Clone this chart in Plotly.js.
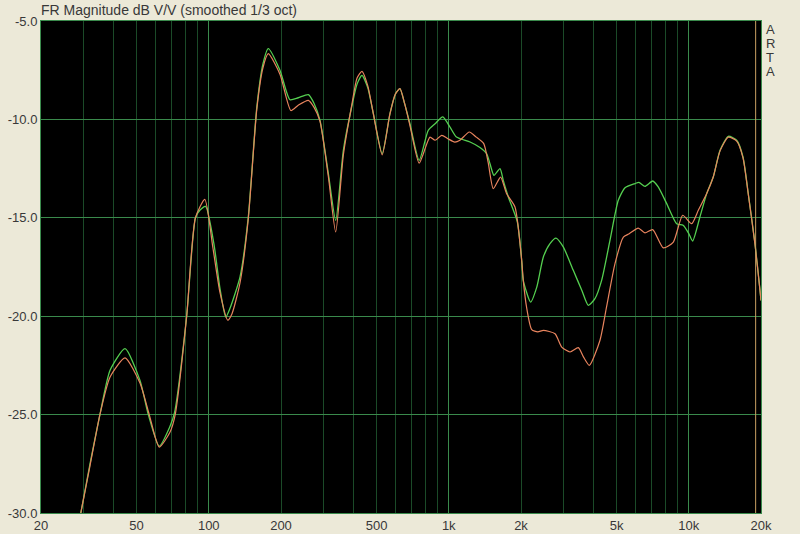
<!DOCTYPE html>
<html>
<head>
<meta charset="utf-8">
<script src="https://cdn.plot.ly/plotly-3.0.1.min.js"></script>
<style>html,body{margin:0;padding:0;background:#ECE9D8;}#chart{width:800px;height:534px;}</style>
</head>
<body>
<div id="chart"></div>
<script>
// ---- data ----
const freqGreen = [29.3,32,35.2,38.8,44.8,51.7,56,62.2,68.9,72,80.9,88,92,97,105,111.4,117.7,122.6,135,146,158.5,168,177,198,218,236,260,275,290.8,315,338,363.8,394,415,435,460,485,528,569,600,626,655,689,753,822,877,944,1012,1077,1227,1349,1438,1485,1543,1635,1687,1771,1930,2013,2044,2193,2327,2478,2641,2799,3000,3303,3583,3815,4066,4335,4698,5086,5426,5970,6200,6571,7078,7460,8093,8905,9471,10000,10380,11130,11880,12650,13500,14620,15840,16830,17700,18880,19810,20000];
const dbGreen = [-30.0,-27.5,-25.0,-22.75,-21.65,-23.26,-25.0,-26.6,-25.6,-24.9,-20.0,-15.0,-14.6,-14.42,-16.3,-18.6,-20.05,-19.6,-18.0,-15.0,-9.4,-7.2,-6.4,-7.5,-9.0,-8.9,-8.74,-9.2,-10.05,-12.75,-15.13,-11.57,-9.37,-8.2,-7.76,-8.4,-9.71,-11.74,-9.71,-8.7,-8.44,-9.2,-10.22,-12.08,-10.55,-10.22,-9.87,-10.39,-10.9,-11.15,-11.43,-11.74,-12.25,-12.84,-12.5,-13.1,-13.94,-15.2,-17.16,-18.18,-19.28,-18.52,-16.99,-16.31,-16.03,-16.48,-17.67,-18.68,-19.45,-19.11,-18.18,-16.14,-14.11,-13.47,-13.26,-13.2,-13.4,-13.13,-13.43,-14.28,-15.3,-15.38,-15.8,-16.18,-14.96,-13.77,-12.93,-11.57,-10.86,-11.06,-11.91,-13.77,-16.31,-18.68,-19.2];

const freqRed = [29.3,32,35.2,38.8,44.8,51.7,56.5,62.2,68.9,72.5,80.9,88,96.3,104,111.4,120,125,135,146,158.5,168,177,198,220,236,260,275,290.8,315,338,363.8,394,415,435,460,485,528,569,600,626,655,689,753,835,877,935,991,1059,1113,1218,1302,1399,1460,1533,1644,1741,1888,2013,2044,2109,2217,2350,2478,2772,2956,3201,3466,3640,3853,4268,4545,4928,5340,5650,6160,6571,7078,7834,8625,9434,10280,10960,11880,12650,13500,14620,15840,16830,17700,18880,19810,20000];
const dbRed = [-30.0,-27.6,-25.0,-23.09,-22.12,-23.4,-25.0,-26.65,-25.9,-25.0,-20.0,-15.0,-14.06,-16.5,-18.8,-20.2,-19.87,-18.3,-15.1,-9.5,-7.4,-6.66,-7.7,-9.55,-9.28,-9.03,-9.4,-10.1,-12.9,-15.72,-11.8,-9.3,-7.9,-7.56,-8.3,-9.71,-11.8,-9.71,-8.7,-8.44,-9.2,-10.3,-12.22,-10.9,-11.06,-10.81,-10.98,-11.15,-11.06,-10.64,-10.9,-11.23,-12.2,-13.52,-12.93,-13.77,-14.45,-17.16,-18.18,-19.53,-20.68,-20.8,-20.72,-20.89,-21.57,-21.82,-21.6,-22.07,-22.5,-21.22,-19.53,-17.33,-15.98,-15.81,-15.52,-15.77,-15.6,-16.53,-16.23,-14.87,-15.3,-14.62,-13.77,-12.93,-11.6,-10.9,-11.1,-11.95,-13.8,-16.35,-18.7,-19.2];

const xLabelVals = [20,50,100,200,500,1000,2000,5000,10000,20000];
const xLabelText = ['20','50','100','200','500','1k','2k','5k','10k','20k'];
const xMajorGrid = [100,1000,10000];
const xAllGrid = [20,30,40,50,60,70,80,90,100,200,300,400,500,600,700,800,900,1000,2000,3000,4000,5000,6000,7000,8000,9000,10000,20000];
const yTickVals = [-30,-25,-20,-15,-10,-5];
const yTickText = ['-30.0','-25.0','-20.0','-15.0','-10.0','-5.0'];
const cursorFreq = 19000;
const titleText = 'FR Magnitude dB V/V (smoothed 1/3 oct)';
const brandLetters = ['A','R','T','A'];

// ---- styling ----
const FONT = 'Liberation Sans, Arial, sans-serif';
const TXT = '#383838';
const GRID_MAJOR = '#3a8a4c';
const GRID_MINOR = '#1b4a28';
const xRange = [Math.log10(20), Math.log10(20000)];
const xAllText = xAllGrid.map(v => { const i = xLabelVals.indexOf(v); return i >= 0 ? xLabelText[i] : ''; });

const traces = [
  {x: freqGreen, y: dbGreen, type: 'scatter', mode: 'lines', xaxis: 'x', yaxis: 'y',
   line: {color: '#55cf50', width: 1.3, shape: 'spline', smoothing: 0.6}, hoverinfo: 'skip'},
  {x: freqRed, y: dbRed, type: 'scatter', mode: 'lines', xaxis: 'x2', yaxis: 'y',
   line: {color: '#e8845e', width: 1.2, shape: 'spline', smoothing: 0.6}, hoverinfo: 'skip'}
];

const annotations = brandLetters.map((ch, i) => ({
  text: ch, xref: 'paper', yref: 'paper', x: 1, y: 1, xanchor: 'center', yanchor: 'middle',
  xshift: 9, yshift: -8 - 14 * i, showarrow: false,
  font: {family: FONT, size: 13, color: TXT}
}));

const layout = {
  width: 800, height: 534,
  paper_bgcolor: '#ECE9D8', plot_bgcolor: '#000000',
  margin: {l: 41, r: 39, t: 21, b: 21, pad: 0},
  showlegend: false,
  title: {text: titleText, x: 0, xref: 'paper', xanchor: 'left', y: 1 - 10 / 534, yref: 'container', yanchor: 'middle',
          font: {family: FONT, size: 14, color: TXT}},
  xaxis: {type: 'log', range: xRange, tickmode: 'array', tickvals: xAllGrid, ticktext: xAllText,
          showgrid: true, gridcolor: GRID_MINOR, gridwidth: 1, ticks: '', automargin: false, zeroline: false,
          showline: true, mirror: true, linecolor: GRID_MAJOR, linewidth: 1,
          tickfont: {family: FONT, size: 13, color: TXT}},
  xaxis2: {type: 'log', range: xRange, overlaying: 'x', anchor: 'y', tickmode: 'array', tickvals: xMajorGrid,
           showticklabels: false, showgrid: true, gridcolor: GRID_MAJOR, gridwidth: 1, ticks: '', showline: false,
           zeroline: false, automargin: false},
  yaxis: {range: [-30, -5], tickmode: 'array', tickvals: yTickVals, ticktext: yTickText,
          showgrid: true, gridcolor: GRID_MAJOR, gridwidth: 1, ticks: '', zeroline: false, automargin: false,
          showline: true, mirror: true, linecolor: GRID_MAJOR, linewidth: 1,
          tickfont: {family: FONT, size: 13, color: TXT}},
  shapes: [{type: 'line', xref: 'x', yref: 'paper', x0: cursorFreq, x1: cursorFreq, y0: 0, y1: 1,
            line: {color: '#c9a062', width: 1}}],
  annotations: annotations
};

Plotly.newPlot('chart', traces, layout, {staticPlot: true, displayModeBar: false});
</script>
</body>
</html>
